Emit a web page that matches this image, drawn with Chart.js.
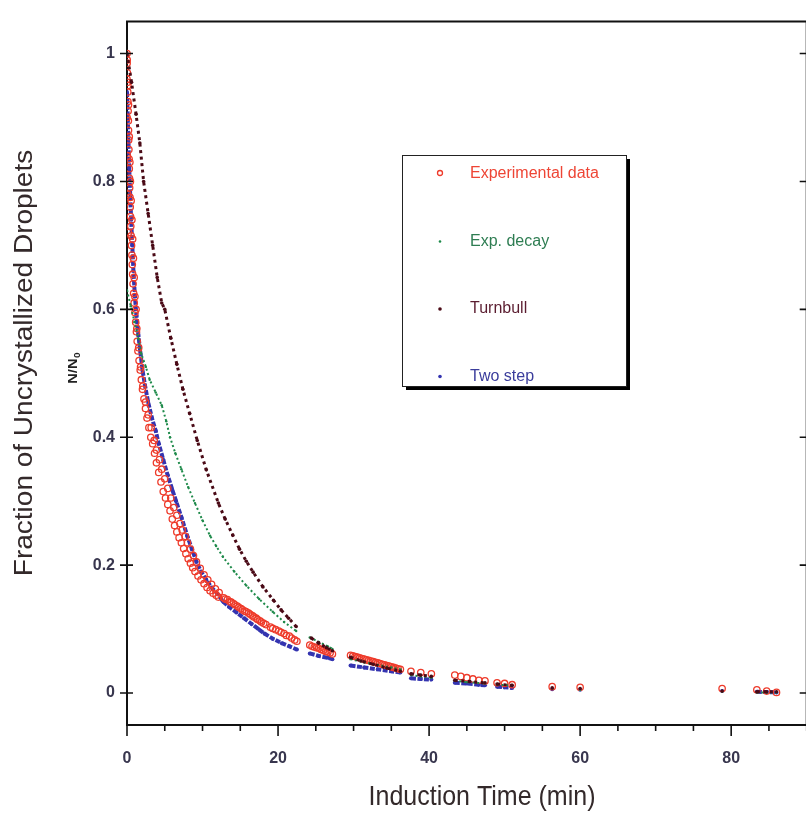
<!DOCTYPE html>
<html>
<head>
<meta charset="utf-8">
<title>Fraction of Uncrystallized Droplets</title>
<script src="https://cdn.jsdelivr.net/npm/chart.js@4.4.1/dist/chart.umd.min.js"></script>
<style>
  html, body { margin: 0; padding: 0; background: #fff; }
  #wrap { width: 806px; height: 813px; overflow: hidden; position: relative; }
  canvas { display: block; }
</style>
</head>
<body>
<div id="wrap"><canvas id="chart" width="812" height="813"></canvas></div>
<script>
const expTime = [0, 0.02, 0.05, 0.07, 0.1, 0.12, 0.15, 0.18, 0.2, 0.22, 0.25, 0.28, 0.3, 0.33, 0.35, 0.4, 0.43, 0.47, 0.5, 0.55,
  0.6, 0.65, 0.7, 0.75, 0.8, 0.88, 0.95, 1.05, 1.15, 1.25, 1.35, 1.45, 1.6, 1.75, 1.9, 2.05, 2.25, 2.45, 2.65, 2.9,
  3.15, 3.4, 3.65, 3.9, 4.2, 4.5, 4.8, 5.1, 5.4, 5.7, 6.0, 6.3, 6.6, 6.9, 7.2, 7.5, 7.8, 8.1, 8.4, 8.7,
  9.0, 9.4, 9.8, 10.2, 10.6, 11.0, 11.4, 11.8, 12.1,
  12.8, 13.3, 13.8, 14.3, 14.8, 15.3, 15.8, 16.3, 16.8, 17.3, 17.8, 18.4, 19.0, 19.7, 20.4, 21.1, 21.8, 22.5,
  24.2, 24.8, 25.4, 26.0, 26.6, 27.2,
  29.6, 30.2, 30.8, 31.4, 32.0, 32.6, 33.2, 33.8, 34.4, 35.0, 35.6, 36.2,
  37.6, 38.9, 40.3, 43.4, 44.2, 45.0, 45.8, 46.6, 47.4, 49.0, 50.0, 51.0,
  56.3, 60.0, 78.8, 83.4, 84.7, 86.0,
  0, 0.02, 0.05, 0.1, 0.2,
  0.03, 0.12, 0.2, 0.3, 0.38, 0.45, 0.55, 0.65, 0.75, 0.85, 0.95, 1.05, 1.2, 1.3, 1.55, 1.8, 2.1, 2.45, 2.8, 3.2,
  3.6, 3.9, 4.3, 4.6, 5.0, 5.4, 5.8, 6.2, 6.6, 7.0, 7.3, 7.7, 8.0, 8.4, 8.8, 9.2, 9.7, 10.2, 10.7, 11.2, 11.7, 12.2,
  13.0, 13.6, 14.1, 14.6, 15.1, 15.6, 16.1, 16.6, 17.1, 17.6, 18.1, 19.3, 20.1, 20.8, 21.5, 22.2,
  24.5, 25.1, 25.7, 26.3, 26.9, 29.9, 30.5, 31.1, 31.7, 32.3, 32.9, 33.5, 34.1, 34.7, 35.3, 35.9];
const expFrac = [1.0, 0.985, 0.97, 0.955, 0.94, 0.925, 0.91, 0.895, 0.88, 0.865, 0.85, 0.835, 0.82, 0.805, 0.79, 0.775, 0.76, 0.745, 0.73, 0.715,
  0.70, 0.685, 0.67, 0.655, 0.64, 0.625, 0.61, 0.595, 0.58, 0.565, 0.55, 0.535, 0.52, 0.505, 0.49, 0.475, 0.46, 0.445, 0.43, 0.415,
  0.40, 0.39, 0.375, 0.36, 0.345, 0.33, 0.315, 0.305, 0.295, 0.285, 0.272, 0.262, 0.252, 0.243, 0.235, 0.226, 0.218, 0.21, 0.203, 0.196,
  0.19, 0.183, 0.177, 0.171, 0.165, 0.16, 0.156, 0.153, 0.15,
  0.149, 0.146, 0.142, 0.138, 0.134, 0.13, 0.127, 0.123, 0.119, 0.115, 0.111, 0.107, 0.103, 0.099, 0.095, 0.09, 0.086, 0.081,
  0.075, 0.072, 0.07, 0.067, 0.064, 0.061,
  0.059, 0.057, 0.055, 0.053, 0.051, 0.049, 0.047, 0.045, 0.043, 0.041, 0.039, 0.037,
  0.034, 0.032, 0.03, 0.028, 0.026, 0.024, 0.022, 0.02, 0.019, 0.016, 0.015, 0.013,
  0.010, 0.009, 0.007, 0.005, 0.003, 0.001,
  0.96, 0.9, 0.84, 0.78, 0.72,
  0.99, 0.95, 0.92, 0.87, 0.83, 0.8, 0.77, 0.74, 0.71, 0.68, 0.65, 0.62, 0.6, 0.57, 0.54, 0.51, 0.48, 0.455, 0.435, 0.415,
  0.395, 0.38, 0.365, 0.35, 0.335, 0.32, 0.305, 0.29, 0.278, 0.265, 0.255, 0.245, 0.235, 0.225, 0.215, 0.205, 0.195, 0.185, 0.177, 0.17, 0.163, 0.157,
  0.147, 0.143, 0.14, 0.136, 0.132, 0.128, 0.125, 0.121, 0.117, 0.113, 0.109, 0.101, 0.097, 0.093, 0.089, 0.083,
  0.073, 0.071, 0.068, 0.065, 0.063, 0.058, 0.056, 0.054, 0.052, 0.05, 0.048, 0.046, 0.044, 0.042, 0.04, 0.038];

// Exponential decay fit (green)
const decayTime = [0, 0.5, 1.0, 1.5, 1.9, 2.5, 3.0, 3.8, 4.6, 5.2, 5.7, 6.4, 7.2, 8.1, 9.0, 10.0, 11.0, 11.8, 12.7, 14.2,
  15.8, 17.5, 19.3, 20.8, 22.4, null, 24.2, 25.4, 26.6, 27.2, null, 29.6, 31.4, 33.2, 35.0, 36.2, null,
  37.6, 38.9, 40.3, null, 43.4, 45.0, 47.4, null, 49.0, 51.0, null, 56.3, null, 60.0, null, 78.8, null, 83.4, 84.7, 86.0];
const decayFrac = [0.63, 0.605, 0.58, 0.555, 0.53, 0.51, 0.49, 0.47, 0.45, 0.425, 0.40, 0.375, 0.35, 0.322, 0.297, 0.27, 0.246, 0.23, 0.213, 0.19,
  0.168, 0.147, 0.127, 0.111, 0.097, null, 0.087, 0.080, 0.073, 0.069, null, 0.053, 0.048, 0.044, 0.040, 0.037, null,
  0.028, 0.026, 0.024, null, 0.019, 0.017, 0.015, null, 0.013, 0.012, null, 0.007, null, 0.005, null, 0.002, null, 0.001, 0.001, 0.001];

// Turnbull fit (dark maroon)
const turnbullTime = [0, 0.6, 1.2, 1.7, 2.2, 2.8, 3.4, 4.0, 4.6, 5.0, 5.8, 6.6, 7.4, 8.3, 9.3, 10.5, 12.1, 13.0, 14.0, 14.9,
  15.8, 16.7, 18.0, 19.4, 20.4, 21.4, 22.4, null, 24.4, 25.4, 26.4, 27.2, null, 29.6, 31.0, 32.6, 34.4, 36.2, null,
  37.6, 38.9, 40.3, null, 43.4, 45.4, 47.4, null, 49.0, 51.0, null, 56.3, null, 60.0, null, 78.8, null, 83.4, 84.7, 86.0];
const turnbullFrac = [1.0, 0.955, 0.905, 0.86, 0.8, 0.75, 0.7, 0.65, 0.61, 0.6, 0.555, 0.514, 0.475, 0.437, 0.395, 0.349, 0.297, 0.272, 0.247, 0.225,
  0.206, 0.189, 0.166, 0.145, 0.13, 0.117, 0.104, null, 0.086, 0.078, 0.071, 0.066, null, 0.056, 0.05, 0.045, 0.039, 0.034, null,
  0.03, 0.028, 0.026, null, 0.02, 0.018, 0.016, null, 0.014, 0.012, null, 0.008, null, 0.007, null, 0.003, null, 0.002, 0.002, 0.002];

// Two step fit (blue)
const twoStepTime = [0, 0.1, 0.2, 0.3, 0.42, 0.55, 0.7, 0.85, 1.05, 1.25, 1.5, 1.75, 2.05, 2.4, 2.8, 3.3, 3.8, 4.2, 4.8, 5.4,
  6.0, 6.5, 7.2, 8.0, 8.6, 9.2, 9.8, 10.5, 11.2, 12.0, 12.7, 13.5, 14.5, 15.5, 16.5, 17.4, 18.2, 19.3, 20.5, 21.5, 22.5, null,
  24.2, 25.4, 26.6, 27.2, null, 29.6, 31.4, 33.2, 35.0, 36.2, null, 37.6, 38.9, 40.3, null, 43.4, 45.0, 46.6, 47.4, null,
  49.0, 50.0, 51.0, null, 56.3, null, 60.0, null, 78.8, null, 83.4, 84.7, 86.0];
const twoStepFrac = [0.94, 0.9, 0.86, 0.82, 0.78, 0.74, 0.7, 0.66, 0.62, 0.59, 0.56, 0.535, 0.505, 0.48, 0.455, 0.43, 0.41, 0.39, 0.365, 0.34,
  0.318, 0.30, 0.275, 0.245, 0.225, 0.205, 0.19, 0.177, 0.165, 0.155, 0.143, 0.135, 0.126, 0.117, 0.108, 0.1, 0.093, 0.085, 0.078, 0.073, 0.068, null,
  0.062, 0.058, 0.055, 0.053, null, 0.043, 0.04, 0.037, 0.034, 0.032, null, 0.023, 0.022, 0.021, null, 0.016, 0.015, 0.013, 0.012, null,
  0.01, 0.009, 0.008, null, 0.006, null, 0.005, null, 0.003, null, 0.002, 0.0015, 0.001];

// Axis tick labels
const xTickLabels = ['0', '20', '40', '60', '80'];
const yTickLabels = ['0', '0.2', '0.4', '0.6', '0.8', '1'];

const FONT = '"Liberation Sans", Arial, sans-serif';

function toPoints(xs, ys) {
    return xs.map((x, i) => ({ x: x, y: ys[i] }));
}

// Axis titles, top/right frame, tick marks and the boxed legend
const decorations = {
    id: 'decorations',
    afterDraw(chart) {
        const { ctx, chartArea: a, scales: { x, y } } = chart;
        ctx.save();

        // frame on top and right
        ctx.strokeStyle = '#111';
        ctx.lineWidth = 2;
        ctx.beginPath();
        ctx.moveTo(a.left - 1, a.top);
        ctx.lineTo(a.right, a.top);
        ctx.lineTo(a.right, a.bottom);
        ctx.stroke();

        // y ticks: crossing the left axis, inward on the right axis
        ctx.lineWidth = 1.6;
        y.ticks.forEach(t => {
            const py = y.getPixelForValue(t.value);
            ctx.beginPath();
            ctx.moveTo(a.left - 7, py);
            ctx.lineTo(a.left + 6, py);
            ctx.moveTo(a.right - 7, py);
            ctx.lineTo(a.right, py);
            ctx.stroke();
        });

        // x ticks: major every 20, minor every 5
        for (let v = x.min; v <= x.max; v += 5) {
            const px = x.getPixelForValue(v);
            const len = v % 20 === 0 ? 11 : 6;
            ctx.beginPath();
            ctx.moveTo(px, a.bottom);
            ctx.lineTo(px, a.bottom + len);
            ctx.stroke();
        }

        // y title
        ctx.fillStyle = '#33292a';
        ctx.textAlign = 'center';
        ctx.textBaseline = 'middle';
        ctx.save();
        ctx.translate(25, 363);
        ctx.rotate(-Math.PI / 2);
        ctx.scale(1.12, 1);
        ctx.font = '25px ' + FONT;
        ctx.fillText('Fraction of Uncrystallized Droplets', 0, 0);
        ctx.restore();

        // N/N0 label
        ctx.save();
        ctx.translate(73, 368);
        ctx.rotate(-Math.PI / 2);
        ctx.scale(1.12, 1);
        ctx.fillStyle = '#222';
        ctx.textAlign = 'left';
        ctx.font = 'bold 13px ' + FONT;
        ctx.fillText('N/N', -14, 0);
        ctx.font = 'bold 9px ' + FONT;
        ctx.fillText('0', 9, 5);
        ctx.restore();

        // x title
        ctx.save();
        ctx.translate(482, 797);
        ctx.scale(1, 1.12);
        ctx.font = '25px ' + FONT;
        ctx.fillText('Induction Time (min)', 0, 0);
        ctx.restore();

        // legend box with drop shadow
        const lx = 402, ly = 155, lw = 224, lh = 231;
        ctx.fillStyle = '#000';
        ctx.fillRect(lx + 4, ly + 4, lw, lh);
        ctx.fillStyle = '#fff';
        ctx.fillRect(lx, ly, lw, lh);
        ctx.lineWidth = 1;
        ctx.strokeStyle = '#222';
        ctx.strokeRect(lx + 0.5, ly + 0.5, lw, lh);

        const legendColors = ['#ee4535', '#2e7d52', '#5b1d30', '#3b3d9c'];
        ctx.textAlign = 'left';
        ctx.font = '16px ' + FONT;
        chart.data.datasets.forEach((ds, i) => {
            const ry = 174 + i * 67.5;
            ctx.fillStyle = legendColors[i];
            ctx.fillText(ds.label, 470, ry);
            ctx.beginPath();
            if (i === 0) {
                ctx.strokeStyle = ds.borderColor;
                ctx.lineWidth = 1.3;
                ctx.arc(440, ry - 1, 2.5, 0, Math.PI * 2);
                ctx.stroke();
            } else {
                ctx.fillStyle = ds.borderColor;
                ctx.arc(440, ry, i === 1 ? 1.3 : 1.8, 0, Math.PI * 2);
                ctx.fill();
            }
        });

        ctx.restore();
    }
};

const ctx = document.getElementById('chart').getContext('2d');
new Chart(ctx, {
    type: 'scatter',
    data: {
        datasets: [
            {
                label: 'Experimental data',
                data: toPoints(expTime, expFrac),
                borderColor: '#ee3b2b',
                backgroundColor: 'rgba(0,0,0,0)',
                pointRadius: 3.2,
                pointBorderWidth: 1.3,
                showLine: false,
                order: 3
            },
            {
                label: 'Exp. decay',
                data: toPoints(decayTime, decayFrac),
                borderColor: '#1e8a4a',
                backgroundColor: '#1e8a4a',
                pointRadius: 1.2,
                pointBorderWidth: 0,
                showLine: true,
                borderWidth: 2,
                borderDash: [2, 2.5],
                spanGaps: false,
                order: 2
            },
            {
                label: 'Turnbull',
                data: toPoints(turnbullTime, turnbullFrac),
                borderColor: '#4a0a16',
                backgroundColor: '#4a0a16',
                pointRadius: 1.8,
                pointBorderWidth: 0,
                showLine: true,
                borderWidth: 3,
                borderDash: [3, 3.5],
                spanGaps: false,
                order: 1
            },
            {
                label: 'Two step',
                data: toPoints(twoStepTime, twoStepFrac),
                borderColor: '#3434b0',
                backgroundColor: '#3434b0',
                pointRadius: 2,
                pointBorderWidth: 0,
                showLine: true,
                borderWidth: 4,
                borderDash: [5, 1.5],
                spanGaps: false,
                order: 4
            }
        ]
    },
    options: {
        responsive: false,
        animation: false,
        layout: { padding: { left: 0, top: 15, right: 4, bottom: 0 } },
        plugins: {
            legend: { display: false },
            tooltip: { enabled: false }
        },
        scales: {
            x: {
                type: 'linear',
                min: 0,
                max: 90,
                grid: { display: false, drawTicks: false },
                border: { display: true, color: '#111', width: 2 },
                ticks: {
                    stepSize: 20,
                    includeBounds: false,
                    padding: 24,
                    color: '#38364e',
                    font: { family: FONT, size: 16, weight: 'bold' },
                    callback: v => xTickLabels[v / 20]
                },
                afterFit: s => { s.height = 88; }
            },
            y: {
                type: 'linear',
                min: -0.05,
                max: 1.05,
                grid: { display: false, drawTicks: false },
                border: { display: true, color: '#111', width: 2 },
                ticks: {
                    stepSize: 0.2,
                    includeBounds: false,
                    padding: 12,
                    color: '#38364e',
                    font: { family: FONT, size: 16, weight: 'bold' },
                    callback: v => yTickLabels[Math.round(v / 0.2)]
                },
                afterFit: s => { s.width = 127; }
            }
        }
    },
    plugins: [decorations]
});
</script>
</body>
</html>
